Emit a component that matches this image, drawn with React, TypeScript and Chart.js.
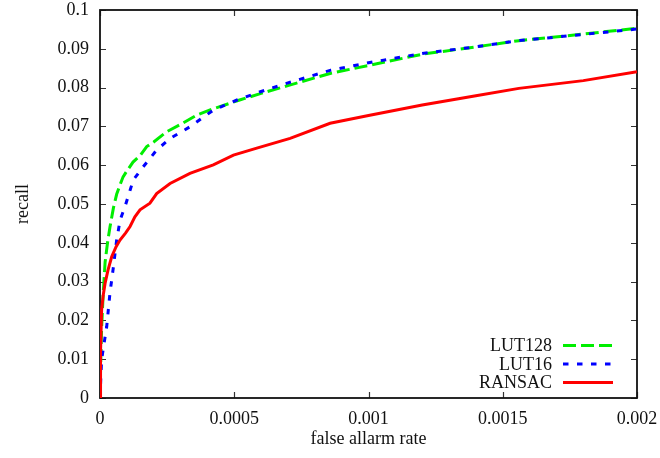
import React, { useEffect, useRef } from "react";
import { Chart, registerables } from "chart.js";

Chart.register(...registerables);

// ---- data ----
const seriesNames = ["LUT128", "LUT16", "RANSAC"];

const lut128X = [0, 0.000003, 0.000006, 0.000012, 0.000019, 0.000028, 0.000037, 0.00005, 0.000062, 0.000075, 0.000086, 0.0001, 0.000123, 0.00015, 0.000174, 0.0002, 0.000248, 0.0003, 0.00036, 0.00042, 0.00052, 0.0006, 0.0007, 0.00086, 0.001, 0.0012, 0.0014, 0.00156, 0.0018, 0.002];
const lut128Y = [0, 0.01, 0.018, 0.027, 0.035, 0.04, 0.044, 0.049, 0.0525, 0.055, 0.057, 0.0585, 0.0608, 0.0625, 0.0648, 0.066, 0.0686, 0.0705, 0.0729, 0.0745, 0.0768, 0.0785, 0.0805, 0.0837, 0.0857, 0.0886, 0.0905, 0.0921, 0.0938, 0.0953];

const lut16X = [0, 0.000003, 0.000006, 0.000015, 0.000025, 0.000037, 0.00005, 0.000062, 0.000075, 0.000093, 0.000124, 0.000161, 0.000211, 0.000261, 0.000335, 0.000422, 0.00051, 0.0006, 0.0007, 0.00086, 0.001, 0.0012, 0.0014, 0.00156, 0.0018, 0.002];
const lut16Y = [0, 0.005, 0.0098, 0.014, 0.0184, 0.027, 0.0338, 0.0407, 0.0459, 0.0493, 0.0562, 0.0596, 0.0639, 0.0669, 0.0699, 0.0742, 0.0768, 0.079, 0.0812, 0.0845, 0.0864, 0.0888, 0.0905, 0.0921, 0.0937, 0.0951];

const ransacX = [0, 0.000002, 0.000006, 0.000012, 0.000019, 0.00003, 0.0000435, 0.00006, 0.0000745, 0.000095, 0.000112, 0.00013, 0.000149, 0.000186, 0.000211, 0.000261, 0.000335, 0.000422, 0.000497, 0.000584, 0.000708, 0.000857, 0.001, 0.0012, 0.0014, 0.00156, 0.0018, 0.002];
const ransacY = [0, 0.012, 0.0227, 0.0265, 0.0296, 0.033, 0.0364, 0.039, 0.0407, 0.0425, 0.0442, 0.0467, 0.0485, 0.0502, 0.0527, 0.0553, 0.0579, 0.0601, 0.0626, 0.0644, 0.0669, 0.0708, 0.0728, 0.0755, 0.0779, 0.0798, 0.0818, 0.0841];

const xTicks = [0, 0.0005, 0.001, 0.0015, 0.002];
const yTicks = [0, 0.01, 0.02, 0.03, 0.04, 0.05, 0.06, 0.07, 0.08, 0.09, 0.1];

const xTitle = "false allarm rate";
const yTitle = "recall";

// ---- styles ----
const FONT = "'Liberation Serif', 'Times New Roman', serif";
const colors = ["#00ee00", "#0000ff", "#ff0000"];
const dashes = [[13, 5], [5.5, 8.5], []];

const fmt = (v: number) => String(Number(Number(v).toFixed(5)));

const zip = (xs: number[], ys: number[]) => xs.map((x, i) => ({ x, y: ys[i] }));

const zeroPad = (s: any) => {
  s.paddingLeft = 0;
  s.paddingRight = 0;
  s.paddingTop = 0;
  s.paddingBottom = 0;
};

const framePlugin = {
  id: "gnuFrame",
  beforeDatasetsDraw(chart: any) {
    const { ctx, chartArea: a, scales } = chart;
    ctx.save();
    ctx.strokeStyle = "#333";
    ctx.lineWidth = 1.2;
    ctx.beginPath();
    const tl = 6;
    xTicks.forEach((v) => {
      const px = Math.round(scales.x.getPixelForValue(v)) + 0.5;
      ctx.moveTo(px, a.bottom);
      ctx.lineTo(px, a.bottom - tl);
      ctx.moveTo(px, a.top);
      ctx.lineTo(px, a.top + tl);
    });
    yTicks.forEach((v) => {
      const py = Math.round(scales.y.getPixelForValue(v)) + 0.5;
      ctx.moveTo(a.left, py);
      ctx.lineTo(a.left + tl, py);
      ctx.moveTo(a.right, py);
      ctx.lineTo(a.right - tl, py);
    });
    ctx.stroke();
    ctx.strokeStyle = "#111";
    ctx.lineWidth = 1.8;
    ctx.strokeRect(a.left, a.top, a.right - a.left, a.bottom - a.top);
    ctx.restore();
  },
  afterDatasetsDraw(chart: any) {
    const { ctx, chartArea: a } = chart;
    ctx.save();
    const lineEnd = a.right - 24;
    const lineStart = lineEnd - 50;
    const textRight = lineStart - 11;
    const rowH = 18.5;
    const n = chart.data.datasets.length;
    chart.data.datasets.forEach((ds: any, i: number) => {
      const y = a.bottom - 15.5 - (n - 1 - i) * rowH;
      ctx.fillStyle = "#111";
      ctx.font = `18px ${FONT}`;
      ctx.textAlign = "right";
      ctx.textBaseline = "middle";
      ctx.fillText(ds.label, textRight, y + 1);
      ctx.strokeStyle = ds.borderColor;
      ctx.lineWidth = ds.borderWidth;
      ctx.setLineDash(ds.borderDash || []);
      ctx.beginPath();
      ctx.moveTo(lineStart, y);
      ctx.lineTo(lineEnd, y);
      ctx.stroke();
      ctx.setLineDash([]);
    });
    ctx.restore();
  },
};

export default function App() {
  const ref = useRef<HTMLCanvasElement | null>(null);

  useEffect(() => {
    if (!ref.current) return;
    const series = [zip(lut128X, lut128Y), zip(lut16X, lut16Y), zip(ransacX, ransacY)];
    const chart = new Chart(ref.current, {
      type: "line",
      data: {
        datasets: series.map((d, i) => ({
          label: seriesNames[i],
          data: d,
          borderColor: colors[i],
          backgroundColor: colors[i],
          borderWidth: 3,
          borderDash: dashes[i],
          borderCapStyle: "butt",
          pointRadius: 0,
          tension: 0,
          fill: false,
          order: 3 - i,
        })),
      },
      options: {
        responsive: false,
        animation: false,
        layout: { padding: { top: 10, right: 23, left: 0, bottom: 0 } },
        plugins: {
          legend: { display: false },
          tooltip: { enabled: false },
        },
        scales: {
          x: {
            type: "linear",
            min: 0,
            max: 0.002,
            afterFit: (s: any) => {
              s.height = 60;
              zeroPad(s);
            },
            afterBuildTicks: (s: any) => {
              s.ticks = xTicks.map((v) => ({ value: v }));
            },
            grid: { display: false, drawTicks: false },
            border: { display: false },
            ticks: {
              autoSkip: false,
              maxRotation: 0,
              padding: 10,
              color: "#111",
              font: { family: FONT, size: 18 },
              callback: (v: any) => fmt(v),
            },
            title: {
              display: true,
              text: xTitle,
              color: "#111",
              font: { family: FONT, size: 18 },
              padding: { top: 0, bottom: 8 },
            },
          },
          y: {
            type: "linear",
            min: 0,
            max: 0.1,
            afterFit: (s: any) => {
              s.width = 100;
              zeroPad(s);
            },
            afterBuildTicks: (s: any) => {
              s.ticks = yTicks.map((v) => ({ value: v }));
            },
            grid: { display: false, drawTicks: false },
            border: { display: false },
            ticks: {
              autoSkip: false,
              padding: 11,
              color: "#111",
              font: { family: FONT, size: 18 },
              callback: (v: any) => fmt(v),
            },
            title: {
              display: true,
              text: yTitle,
              color: "#111",
              font: { family: FONT, size: 18 },
              padding: { top: 12, bottom: 0 },
            },
          },
        },
      },
      plugins: [framePlugin],
    } as any);
    return () => chart.destroy();
  }, []);

  return (
    <div style={{ position: "absolute", left: 0, top: 0, width: 660, height: 458, background: "#fff" }}>
      <canvas ref={ref} width={660} height={458} style={{ display: "block" }} />
    </div>
  );
}
